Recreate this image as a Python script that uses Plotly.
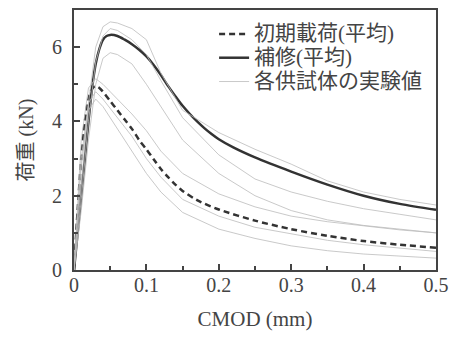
import plotly.graph_objects as go

# CMOD grid for the individual specimens (mm)
cmod = [0, 0.01, 0.02, 0.03, 0.04, 0.05, 0.06, 0.08, 0.10, 0.12, 0.15, 0.20, 0.25, 0.30, 0.35, 0.40, 0.45, 0.50]

# averages (kN) on their own grids
initial_x = [0, 0.005, 0.01, 0.015, 0.02, 0.025, 0.03, 0.035, 0.04, 0.05, 0.06, 0.07, 0.08, 0.09, 0.10,
             0.11, 0.12, 0.13, 0.14, 0.15, 0.17, 0.20, 0.25, 0.30, 0.35, 0.40, 0.45, 0.50]
initial_avg = [0, 1.6, 3.0, 4.0, 4.6, 4.88, 4.95, 4.9, 4.8, 4.55, 4.3, 4.05, 3.8, 3.5, 3.25,
               2.98, 2.72, 2.5, 2.3, 2.13, 1.88, 1.63, 1.33, 1.1, 0.92, 0.78, 0.68, 0.6]
repair_x = [0, 0.005, 0.01, 0.015, 0.02, 0.025, 0.03, 0.035, 0.04, 0.045, 0.05, 0.06, 0.07, 0.08, 0.09,
            0.10, 0.11, 0.12, 0.13, 0.14, 0.15, 0.16, 0.17, 0.18, 0.19, 0.20, 0.22, 0.25, 0.30, 0.35,
            0.40, 0.45, 0.50]
repair_avg = [0, 1.0, 2.0, 3.0, 4.0, 4.9, 5.55, 5.95, 6.2, 6.3, 6.33, 6.3, 6.2, 6.08, 5.93,
              5.75, 5.52, 5.25, 4.95, 4.68, 4.42, 4.2, 4.0, 3.82, 3.66, 3.52, 3.3, 3.03, 2.65, 2.3,
              2.0, 1.78, 1.62]

# individual specimens (kN)
rep_1 = [0, 2.2, 4.5, 6.0, 6.55, 6.68, 6.65, 6.5, 6.2, 5.3, 4.3, 3.7, 3.25, 2.85, 2.4, 2.1, 1.9, 1.75]
rep_2 = [0, 1.9, 4.0, 5.6, 6.3, 6.5, 6.45, 6.2, 5.8, 5.1, 4.1, 3.1, 2.45, 2.1, 1.85, 1.65, 1.5, 1.35]
rep_3 = [0, 1.6, 3.5, 5.0, 5.7, 5.85, 5.8, 5.55, 5.0, 4.4, 3.5, 2.6, 2.0, 1.6, 1.35, 1.2, 1.1, 1.0]
ini_1 = [0, 3.5, 4.9, 5.15, 5.0, 4.8, 4.6, 4.2, 3.75, 3.2, 2.6, 2.05, 1.7, 1.45, 1.3, 1.18, 1.08, 1.0]
ini_2 = [0, 3.0, 4.5, 4.8, 4.6, 4.35, 4.1, 3.6, 3.0, 2.5, 1.9, 1.45, 1.15, 0.98, 0.8, 0.68, 0.58, 0.5]
ini_3 = [0, 2.8, 4.3, 4.6, 4.4, 4.1, 3.8, 3.2, 2.6, 2.1, 1.55, 1.1, 0.85, 0.65, 0.52, 0.43, 0.37, 0.32]
specimens = [rep_1, rep_2, rep_3, ini_1, ini_2, ini_3]

x_ticks = [0, 0.1, 0.2, 0.3, 0.4, 0.5]
x_tick_text = ["0", "0.1", "0.2", "0.3", "0.4", "0.5"]
y_ticks = [0, 2, 4, 6]

name_initial = "初期載荷(平均)"
name_repair = "補修(平均)"
name_spec = "各供試体の実験値"

LEG_SPAN = '<span style="font-size:21px">{}</span>'

fig = go.Figure()

fig.add_trace(go.Scatter(x=initial_x, y=initial_avg, mode="lines", name=LEG_SPAN.format(name_initial),
                         line=dict(color="#333333", width=2.5, dash="6px,4px", shape="spline", smoothing=0.8)))
fig.add_trace(go.Scatter(x=repair_x, y=repair_avg, mode="lines", name=LEG_SPAN.format(name_repair),
                         line=dict(color="#333333", width=2.5, shape="spline", smoothing=0.8)))
for i, s in enumerate(specimens):
    fig.add_trace(go.Scatter(x=cmod, y=s, mode="lines", name=LEG_SPAN.format(name_spec),
                             legendgroup="spec", showlegend=(i == 0),
                             line=dict(color="#bbbbbb", width=0.8)))

axis_common = dict(showline=True, linecolor="#444444", linewidth=2, mirror=True,
                   ticks="inside", ticklen=6, tickwidth=1.5, tickcolor="#444444",
                   showgrid=False, zeroline=False, automargin=False,
                   tickfont=dict(family="Liberation Serif", size=20, color="#444444"))

fig.update_xaxes(range=[0, 0.5], tickvals=x_ticks, ticktext=x_tick_text, ticklabelstandoff=-4,
                 minor=dict(ticks="inside", ticklen=4, dtick=0.05, tickcolor="#444444"),
                 title=dict(text="CMOD (mm)", font=dict(family="Liberation Serif", size=21, color="#444444"), standoff=16),
                 **axis_common)
fig.update_yaxes(range=[0, 7], tickvals=y_ticks, ticklabelstandoff=6,
                 minor=dict(ticks="inside", ticklen=4, dtick=1, tickcolor="#444444"),
                 title=dict(text="荷重 (kN)", font=dict(family="Liberation Serif, Noto Sans CJK JP", size=20, color="#444444"), standoff=13),
                 **axis_common)

# the page adds an 8px body margin, so the figure is 8px smaller and margins shifted
fig.update_layout(
    width=449, height=342,
    margin=dict(l=66, r=21, t=2, b=80),
    paper_bgcolor="white", plot_bgcolor="white",
    showlegend=True,
    legend=dict(x=0.387, y=0.973, xanchor="left", yanchor="top",
                bgcolor="rgba(0,0,0,0)", tracegroupgap=0,
                font=dict(family="Liberation Serif, Noto Sans CJK JP", size=16, color="#444444")),
)

fig.write_html("out.html")
